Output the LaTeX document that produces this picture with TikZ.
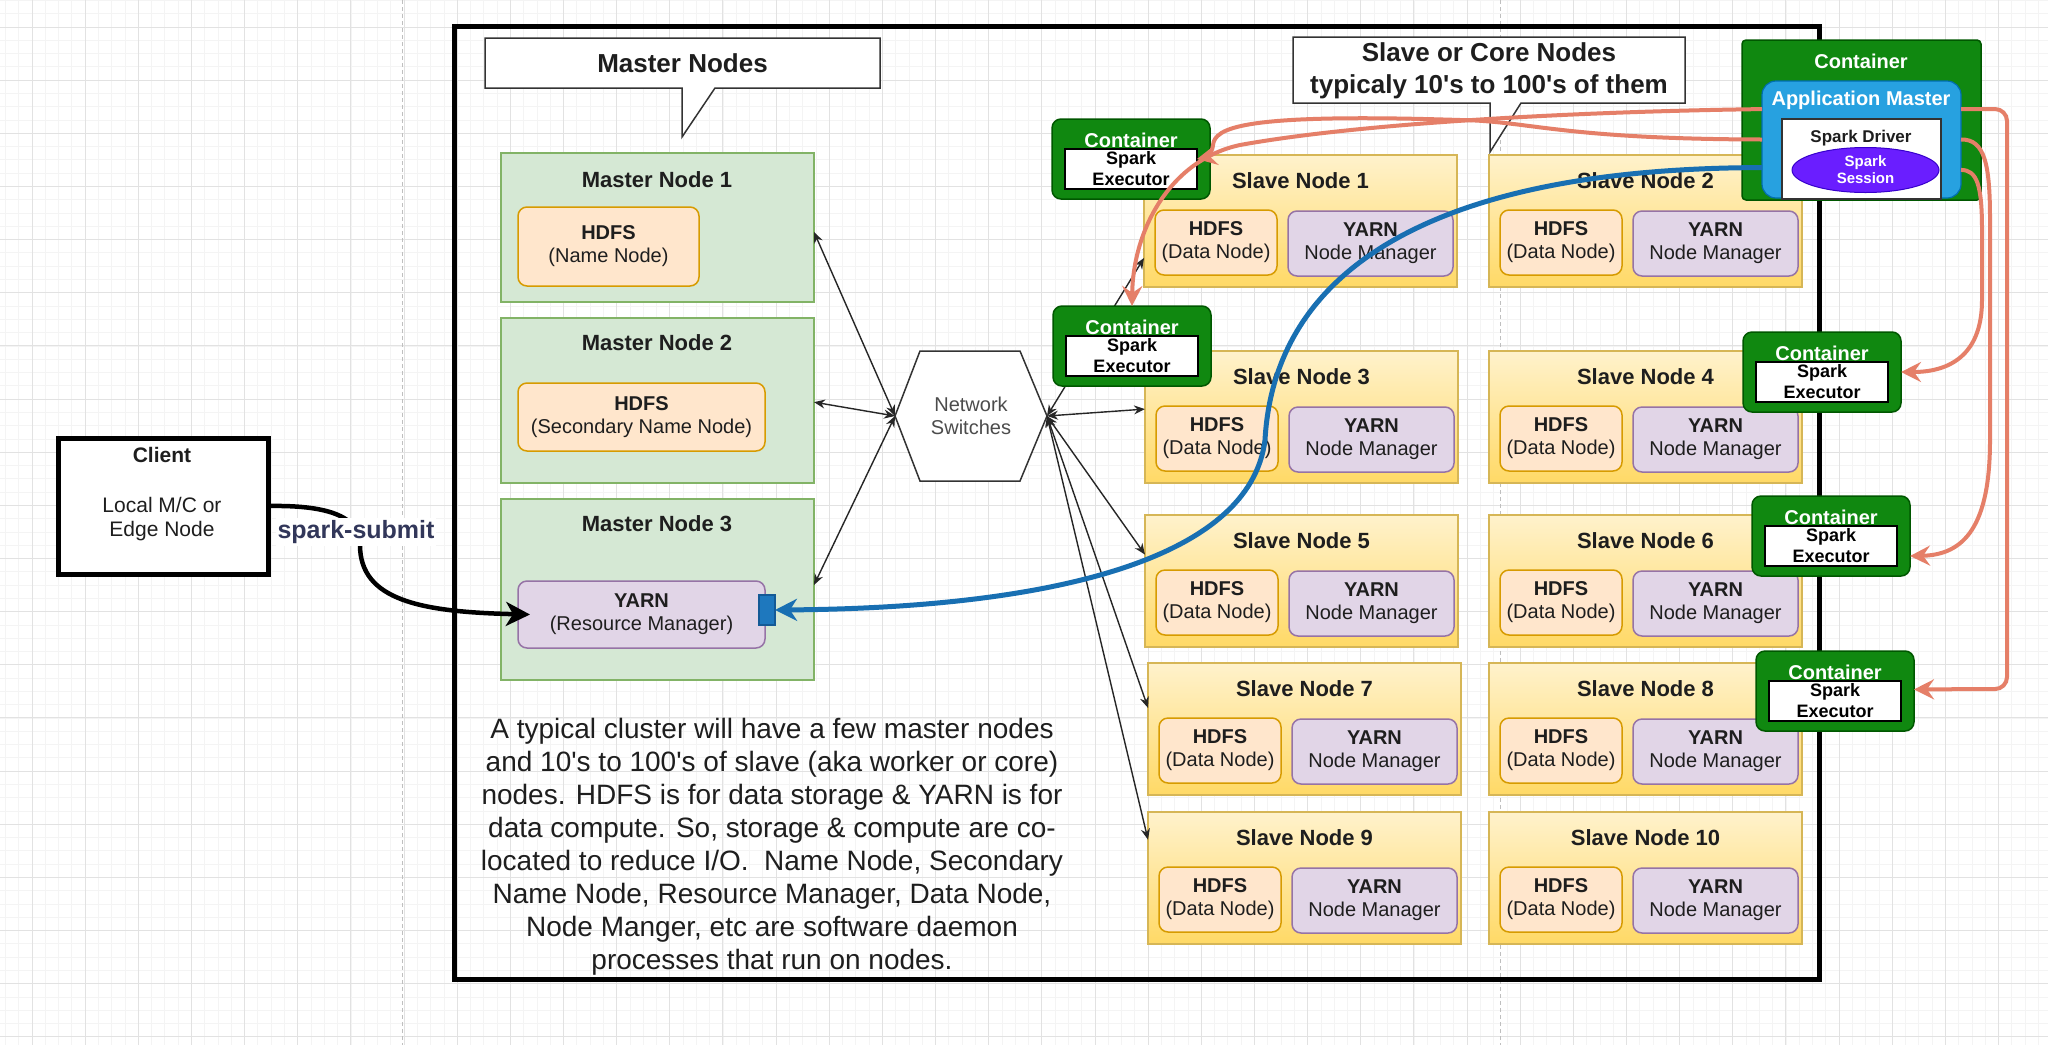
\documentclass[tikz,border=0pt]{standalone}
\usepackage{fontspec}
\setmainfont{Liberation Sans}
\newfontfamily\apfont{Liberation Sans}
\newcommand\ap{{\apfont\char"0027\relax}}
\usetikzlibrary{arrows.meta,calc,shapes.geometric}

\definecolor{mnfill}{HTML}{D5E8D4}
\definecolor{mnstroke}{HTML}{82B366}
\definecolor{hdfill}{HTML}{FFE6CC}
\definecolor{hdstroke}{HTML}{D79B00}
\definecolor{ynfill}{HTML}{E1D5E7}
\definecolor{ynstroke}{HTML}{9673A6}
\definecolor{snfill}{HTML}{FFF2CC}
\definecolor{sngrad}{HTML}{FFD966}
\definecolor{snstroke}{HTML}{D6B656}
\definecolor{cfill}{RGB}{16,136,16}
\definecolor{cstroke}{RGB}{0,87,0}
\definecolor{amfill}{RGB}{39,161,224}
\definecolor{amstroke}{RGB}{0,110,175}
\definecolor{ssfill}{RGB}{106,30,255}
\definecolor{ssstroke}{RGB}{55,0,204}
\definecolor{orng}{RGB}{229,127,104}
\definecolor{blu}{RGB}{24,111,178}
\definecolor{gridmin}{RGB}{244,244,244}
\definecolor{gridmaj}{RGB}{226,226,226}
\definecolor{ssub}{RGB}{50,55,90}
\definecolor{txt}{RGB}{30,30,30}

\newcommand\setfs[2]{\fontsize{#1}{#2}\selectfont}

\tikzset{
  box/.style={anchor=north west, inner sep=0pt, outer sep=0pt},
  mnode/.style={box, draw=mnstroke, fill=mnfill, line width=1.5pt},
  hdfsbox/.style={box, draw=hdstroke, fill=hdfill, rounded corners=9pt, line width=1.5pt,
     align=center, text=txt, font=\setfs{20}{23}},
  yarnbox/.style={box, draw=ynstroke, fill=ynfill, rounded corners=9pt, line width=1.5pt,
     align=center, text=txt, font=\setfs{20}{23}},
  snode/.style={box, draw=snstroke, top color=snfill, bottom color=sngrad, line width=1.5pt},
  contbox/.style={box, draw=cstroke, fill=cfill, rounded corners=9pt, line width=1.5pt},
  exbox/.style={box, draw=black, fill=white, line width=1.5pt, align=center,
     font=\bfseries\setfs{18}{21}},
  ttl/.style={font=\bfseries\setfs{22}{26}, text=txt},
  wttl/.style={font=\bfseries\setfs{20}{22}, text=white},
  callout/.style={draw={rgb,255:red,51;green,51;blue,51}, fill=white, line width=1.5pt},
  netar/.style={draw=black!85, line width=1.4pt,
     {Stealth[length=11pt,width=9pt]}-{Stealth[length=11pt,width=9pt]}},
  orar/.style={draw=orng, line width=4pt, -{Stealth[length=20pt,width=20pt,inset=7pt]}},
  bluar/.style={draw=blu, line width=5pt, -{Stealth[length=22pt,width=22pt,inset=7pt]}},
  subar/.style={draw=black, line width=4.5pt, -{Stealth[length=24pt,width=24pt,inset=7pt]}},
}

\newcommand\SlaveNode[4]{%
  \node[snode, minimum width=313pt, minimum height=132pt] (#1) at (#2,#3) {};
  \node[ttl] (#1t) at ($(#1.north west)+(156.5,26)$) {Slave Node #4};
  \node[hdfsbox, minimum width=122pt, minimum height=65pt] (#1h) at ($(#1.north west)+(11,55)$) {\textbf{HDFS}\\(Data Node)};
  \node[yarnbox, minimum width=165pt, minimum height=65pt] (#1y) at ($(#1.north west)+(144,56)$) {\textbf{YARN}\\Node Manager};
}

\newcommand\ExecCont[3]{%
  \node[contbox, minimum width=158pt, minimum height=80pt] (#1) at (#2,#3) {};
  \node[wttl] (#1t) at ($(#1.north west)+(79,21)$) {Container};
  \node[exbox, minimum width=132pt, minimum height=40pt] (#1e) at ($(#1.north west)+(13,30)$) {Spark\\Executor};
}

\begin{document}
\begin{tikzpicture}[x=1pt, y=-1pt]
\useasboundingbox (0,0) rectangle (2048,1045);
\fill[white] (0,0) rectangle (2048,1045);

% grid
\foreach \i in {0,...,154} \draw[gridmin, line width=0.8pt] ({5.43+13.2875*\i},0) -- ++(0,1045);
\foreach \i in {0,...,79} \draw[gridmin, line width=0.8pt] (0,{0.43+13.2875*\i}) -- ++(2048,0);
\foreach \i in {0,...,38} \draw[gridmaj, line width=1pt] ({32+53.15*\i},0) -- ++(0,1045);
\foreach \i in {0,...,19} \draw[gridmaj, line width=1pt] (0,{27+53.15*\i}) -- ++(2048,0);
\draw[black!25, line width=1pt, dash pattern=on 4pt off 3pt] (402,0) -- (402,1045);
\draw[black!25, line width=1pt, dash pattern=on 4pt off 3pt] (1500,0) -- (1500,1045);

% frame
\draw[line width=5pt] (454.5,26.5) rectangle (1819.5,979.5);

% client
\node[box, draw=black, fill=white, line width=5pt, minimum width=210pt, minimum height=136pt] (client) at (58,438) {};
\node[font=\bfseries\setfs{21}{24}, text=txt] (clientt) at (162,455) {Client};
\node[font=\setfs{21}{24}, text=txt, align=center] (clientd) at (162,519) {Local M/C or\\Edge Node};

% callouts
\draw[callout] (485,38) -- (880,38) -- (880,88) -- (715,88) -- (682,137) -- (682,88) -- (485,88) -- cycle;
\node[font=\bfseries\setfs{26}{30}, text=txt] (mnlabel) at (682.5,63) {Master Nodes};
\draw[callout] (1293,37) -- (1685,37) -- (1685,103) -- (1521,103) -- (1490,152) -- (1490,103) -- (1293,103) -- cycle;
\node[font=\bfseries\setfs{26}{32}, text=txt, align=center] (snlabel) at (1489,71) {Slave or Core Nodes\\typicaly 10\ap s to 100\ap s of them};

% master nodes
\node[mnode, minimum width=313pt, minimum height=149pt] (mn1) at (501,153) {};
\node[ttl] (mn1t) at (657,180) {Master Node 1};
\node[hdfsbox, minimum width=181pt, minimum height=79pt] (nn) at (518,207) {\textbf{HDFS}\\(Name Node)};

\node[mnode, minimum width=313pt, minimum height=165pt] (mn2) at (501,318) {};
\node[ttl] (mn2t) at (657,343) {Master Node 2};
\node[hdfsbox, minimum width=247pt, minimum height=68pt] (snn) at (518,383) {\textbf{HDFS}\\(Secondary Name Node)};

\node[mnode, minimum width=313pt, minimum height=181pt] (mn3) at (501,499) {};
\node[ttl] (mn3t) at (657,524) {Master Node 3};
\node[yarnbox, minimum width=247pt, minimum height=67pt] (rm) at (518,581) {\textbf{YARN}\\(Resource Manager)};
\node[box, draw={rgb,255:red,20;green,90;blue,150}, fill={rgb,255:red,30;green,120;blue,190}, line width=1.2pt, minimum width=16pt, minimum height=30pt] (rmp) at (759,595) {};

% slave nodes
\SlaveNode{sn1}{1144}{155}{1}
\SlaveNode{sn2}{1489}{155}{2}
\SlaveNode{sn3}{1145}{351}{3}
\SlaveNode{sn4}{1489}{351}{4}
\SlaveNode{sn5}{1145}{515}{5}
\SlaveNode{sn6}{1489}{515}{6}
\SlaveNode{sn7}{1148}{663}{7}
\SlaveNode{sn8}{1489}{663}{8}
\SlaveNode{sn9}{1148}{812}{9}
\SlaveNode{sn10}{1489}{812}{10}

% description
\node[align=center, font=\setfs{28}{33}, text=txt] (desc) at (772,847) {A typical cluster will have a few master nodes\\
and 10\ap s to 100\ap s of slave (aka worker or core)\\
nodes. HDFS is for data storage \& YARN is for\\
data compute. So, storage \& compute are co-\\
located to reduce I/O.\ \ Name Node, Secondary\\
Name Node, Resource Manager, Data Node,\\
Node Manger, etc are software daemon\\
processes that run on nodes.};

% network switches
\coordinate (hxL) at (895,416);
\coordinate (hxR) at (1047,416);
\draw[draw={rgb,255:red,51;green,51;blue,51}, fill=white, line width=1.5pt]
  (920,351) -- (1020,351) -- (hxR) -- (1020,481) -- (920,481) -- (hxL) -- cycle;
\node[font=\setfs{20}{23}, text=black!70, align=center] (ns) at (971,416) {Network\\Switches};

\draw[netar] (hxL) -- ($(mn1.north east)!0.53!(mn1.south east)$);
\draw[netar] (hxL) -- ($(mn2.north east)!0.51!(mn2.south east)$);
\draw[netar] (hxL) -- ($(mn3.north east)!0.475!(mn3.south east)$);
\draw[netar] (hxR) -- ($(sn1.north west)!0.78!(sn1.south west)$);
\draw[netar] (hxR) -- ($(sn3.north west)!0.44!(sn3.south west)$);
\draw[netar] (hxR) -- ($(sn5.north west)!0.30!(sn5.south west)$);
\draw[netar] (hxR) -- ($(sn7.north west)!0.34!(sn7.south west)$);
\draw[netar] (hxR) -- ($(sn9.north west)!0.21!(sn9.south west)$);

% executor containers
\ExecCont{c1}{1052}{119}
\ExecCont{c2}{1053}{306}
\ExecCont{c3}{1743}{332}
\ExecCont{c4}{1752}{496}
\ExecCont{c5}{1756}{651}

% application master container
\node[box, draw=cstroke, fill=cfill, rounded corners=4pt, line width=1.5pt, minimum width=239pt, minimum height=160pt] (amc) at (1742,40) {};
\node[wttl] (amct) at (1861,61) {Container};
\node[box, draw=amstroke, fill=amfill, rounded corners=14pt, line width=1.2pt, minimum width=199pt, minimum height=117pt] (am) at (1762,81) {};
\node[wttl] (amt) at (1861,100) {Application Master};
\node[box, draw=black!80, fill=white, line width=1.5pt, minimum width=159pt, minimum height=80pt] (drv) at (1782,119) {};
\node[font=\bfseries\setfs{17}{20}, text=txt] (drvt) at (1861,138) {Spark Driver};
\node[ellipse, draw=ssstroke, fill=ssfill, line width=1pt, minimum width=147pt, minimum height=45pt, inner sep=0pt, align=center, text=white, font=\bfseries\setfs{15}{17}] (ss) at (1865.5,170) {Spark\\Session};

% orange connectors
\draw[orar] ($(am.north west)!0.24!(am.south west)$) .. controls (1550,112) and (1350,125) .. (1240,145)
   .. controls (1170,160) and (1133,230) .. (c2.north);
\draw[orar] ($(am.north west)!0.5!(am.south west)$) .. controls (1560,139) and (1530,121) .. (1460,120)
   .. controls (1240,113) and (1215,128) .. (1213,145)
   .. controls (1212,153) and (1207,157) .. ($(c1e.north east)!0.25!(c1e.south east)$);
\draw[orar, rounded corners=12pt] ($(am.north east)!0.24!(am.south east)$) -- (2007,109) -- (2007,689) -- ($(c5.north east)!0.48!(c5.south east)$);
\draw[orar] ($(am.north east)!0.5!(am.south east)$) .. controls (1985,139) and (1990,165) .. (1990,220) -- (1990,440)
   .. controls (1990,525) and (1965,555) .. ($(c4.north east)!0.75!(c4.south east)$);
\draw[orar] ($(am.north east)!0.76!(am.south east)$) .. controls (1977,170) and (1982,185) .. (1982,230) -- (1982,300)
   .. controls (1982,350) and (1955,372) .. (c3.east);

% blue connector
\draw[bluar] ($(am.north west)!0.74!(am.south west)$) .. controls (1450,168) and (1275,260) .. (1265,440)
   .. controls (1250,560) and (1050,608) .. (rmp.east);

% spark-submit
\draw[subar] (client.east) .. controls (325,505) and (360,515) .. (360,545)
   .. controls (360,600) and (420,612) .. ([xshift=12pt]rm.west);
\node[fill=white, inner sep=2pt, font=\bfseries\setfs{25}{28}, text=ssub] (ssl) at (356,532) {spark-submit};
\end{tikzpicture}
\end{document}
